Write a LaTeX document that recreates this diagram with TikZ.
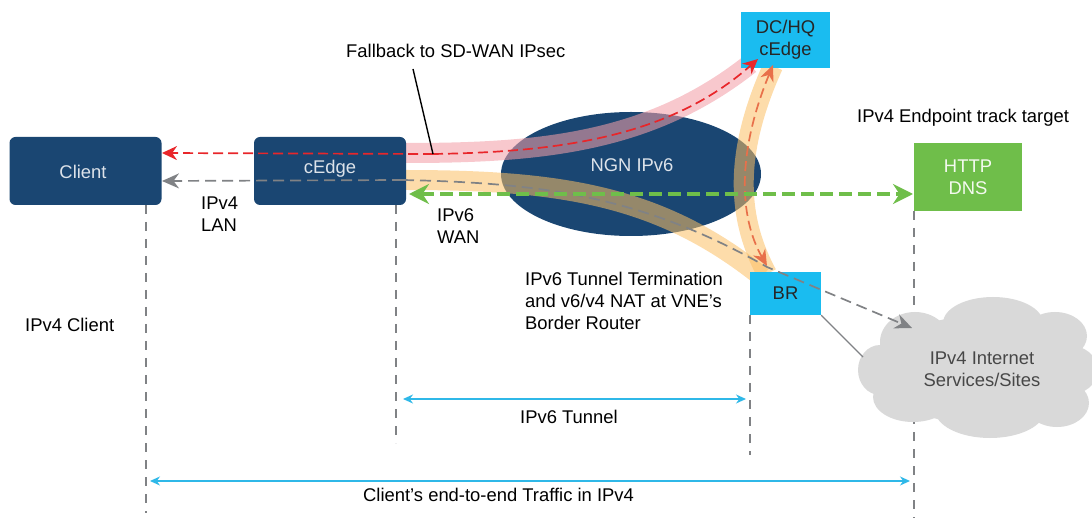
\documentclass[tikz,border=0pt]{standalone}
\usepackage{fontspec}
\setmainfont{Liberation Sans}
\usetikzlibrary{arrows.meta,shapes.geometric}
\definecolor{navy}{HTML}{1A4672}
\definecolor{cyanbox}{HTML}{1ABCF0}
\definecolor{greenbox}{HTML}{6FBE4A}
\definecolor{bandorange}{HTML}{FBBF64}
\definecolor{bandpink}{HTML}{F29EA7}
\definecolor{redline}{HTML}{E8262A}
\definecolor{salmon}{HTML}{E8704A}
\definecolor{greyline}{HTML}{808285}
\definecolor{cloudgrey}{HTML}{D9D9D9}
\definecolor{spanblue}{HTML}{2FB8E8}
\newcommand{\lblfont}{\fontsize{18.4}{22}\selectfont}
\tikzset{
  txt/.style={font=\lblfont,text=black,inner sep=0pt,align=left},
  navybox/.style={draw=none,fill=navy,rounded corners=6pt,inner sep=0pt,text=white!85!navy,font=\lblfont},
  cyanrect/.style={draw=none,fill=cyanbox,inner sep=0pt,text=black!85,align=center,font=\lblfont},
  guide/.style={draw=greyline,line width=1.3pt,dash pattern=on 9pt off 8pt},
  bandO/.style={draw=bandorange,opacity=.55,line width=20pt},
  bandP/.style={draw=bandpink,opacity=.57,line width=20pt},
  redflow/.style={draw=redline,line width=1.7pt,dash pattern=on 10pt off 5pt,-{Stealth[length=15pt,width=14pt]}},
  salmonflow/.style={draw=salmon,line width=1.7pt,dash pattern=on 10pt off 5pt,{Stealth[length=16pt,width=14pt]}-{Stealth[length=16pt,width=14pt]}},
  greyflow/.style={draw=greyline,line width=1.7pt,dash pattern=on 11pt off 6pt,-{Stealth[length=17pt,width=15pt]}},
  greenflow/.style={draw=greenbox,line width=3.2pt,dash pattern=on 13pt off 6pt,{Stealth[length=20pt,width=20pt]}-{Stealth[length=20pt,width=20pt]}},
  span/.style={draw=spanblue,line width=1.3pt,{Stealth[length=10pt,width=9pt]}-{Stealth[length=10pt,width=9pt]}},
  blob/.style={fill=cloudgrey,draw=none}
}
\begin{document}
\begin{tikzpicture}[x=1pt,y=-1pt]
\useasboundingbox (0,0) rectangle (1092,518);
\coordinate (g1a) at (146,205); \coordinate (g1b) at (146,513);
\coordinate (g2a) at (396,205); \coordinate (g2b) at (396,443);
\coordinate (g3a) at (750,315); \coordinate (g3b) at (750,455);
\coordinate (g4a) at (914,211); \coordinate (g4b) at (914,518);
\draw[guide] (g1a) -- (g1b);
\draw[guide] (g2a) -- (g2b);
\draw[guide] (g3a) -- (g3b);
\draw[guide] (g4a) -- (g4b);
% cloud
\fill[blob] (975,370) ellipse [x radius=90,y radius=54];
\fill[blob] (880,370) ellipse [x radius=22,y radius=25];
\fill[blob] (915,342) ellipse [x radius=35,y radius=30];
\fill[blob] (993,323) ellipse [x radius=50,y radius=26];
\fill[blob] (1055,336) ellipse [x radius=32,y radius=24];
\fill[blob] (1068,370) ellipse [x radius=30,y radius=25];
\fill[blob] (1057,403) ellipse [x radius=32,y radius=24];
\fill[blob] (990,410) ellipse [x radius=55,y radius=28];
\fill[blob] (913,397) ellipse [x radius=40,y radius=25];
\node[inner sep=0pt,text=black!72,align=center,font=\lblfont] (cloud) at (982,369) {IPv4 Internet\\Services/Sites};
\coordinate (cloudedge) at (863,357);
% network
\node[ellipse,fill=navy,minimum width=260pt,minimum height=124pt,inner sep=0pt] (ngn) at (631,174) {};
\node[inner sep=0pt,text=white!85!navy,font=\lblfont] (ngnlabel) at (632,165) {NGN IPv6};
% bands
\coordinate (bp0) at (406,153); \coordinate (bp1) at (750,64);
\coordinate (bo0) at (405,180); \coordinate (bo1) at (762,277);
\coordinate (bv0) at (773,66); \coordinate (bv1) at (767,274);
\draw[bandP] (bp0) .. controls (540,153) and (650,143) .. (bp1);
\draw[bandO] (bo0) .. controls (560,180) and (660,195) .. (bo1);
\draw[bandO] (bv0) .. controls (735,150) and (735,215) .. (bv1);
% boxes
\node[navybox,minimum width=152pt,minimum height=68pt] (client) at (85.5,171) {};
\node[inner sep=0pt,text=white!85!navy,font=\lblfont] (clientlabel) at (83,172) {Client};
\node[navybox,minimum width=152pt,minimum height=68pt] (cedge) at (330,171) {};
\node[inner sep=0pt,text=white!85!navy,font=\lblfont] (cedgelabel) at (330,169) {cEdge};
\node[cyanrect,minimum width=89pt,minimum height=56pt] (dc) at (785.5,40) {DC/HQ\\cEdge};
\node[cyanrect,minimum width=71pt,minimum height=43pt] (br) at (785.5,293.5) {BR};
\node[fill=greenbox,inner sep=0pt,minimum width=108pt,minimum height=68pt,text=white!92!greenbox,align=center,font=\lblfont] (http) at (968,177) {HTTP\\DNS};
% flows
\coordinate (redstart) at (162,153);
\coordinate (redmid) at (433,154);
\coordinate (reddc) at (758,59);
\draw[redflow] (redmid) .. controls (560,152) and (670,137) .. (reddc);
\draw[redflow] (redmid) -- (redstart);
\draw[salmonflow] (773,65) .. controls (738,150) and (738,215) .. (767,266);
\coordinate (greystart) at (162,181);
\coordinate (greymid) at (403,180);
\coordinate (greyend) at (912,328);
\draw[greyflow] (greymid) -- (greystart);
\draw[greyflow] (greymid) .. controls (540,183) and (640,195) .. (767,267) -- (greyend);
\coordinate (gl) at (409,194); \coordinate (gr) at (913,194);
\draw[greenflow] (gl) -- (gr);
\draw[draw=greyline,line width=1.3pt] (br.south east) -- (cloudedge);
% labels
\node[txt,anchor=west] (fb) at (346,51) {Fallback to SD-WAN IPsec};
\coordinate (fbtail) at (413,69);
\draw[black,line width=1.4pt] (fbtail) -- (redmid);
\node[txt,anchor=west] (lan) at (201,214.5) {IPv4\\LAN};
\node[txt,anchor=west] (wan) at (437,226.5) {IPv6\\WAN};
\node[txt,anchor=west] (tt) at (525,300.5) {IPv6 Tunnel Termination\\and v6/v4 NAT at VNE’s\\Border Router};
\node[txt,anchor=west] (ep) at (857,118) {IPv4 Endpoint track target};
\node[txt,anchor=west] (ic) at (25,325) {IPv4 Client};
\node[txt,anchor=west] (tun) at (520,417) {IPv6 Tunnel};
\node[txt,anchor=west] (e2e) at (363,495) {Client’s end-to-end Traffic in IPv4};
\coordinate (s1a) at (403,399); \coordinate (s1b) at (746,399);
\coordinate (s2a) at (150,481); \coordinate (s2b) at (910,481);
\draw[span] (s1a) -- (s1b);
\draw[span] (s2a) -- (s2b);
\end{tikzpicture}
\end{document}
